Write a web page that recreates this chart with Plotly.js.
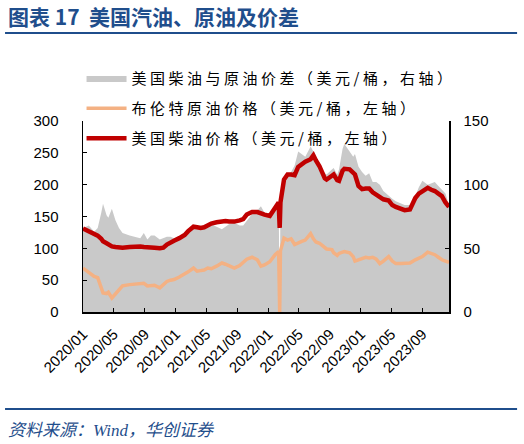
<!DOCTYPE html>
<html>
<head>
<meta charset="utf-8">
<script src="https://cdn.plot.ly/plotly-3.0.1.min.js"></script>
<style>
  html, body { margin: 0; padding: 0; background: #fff; }
  #chart { width: 524px; height: 444px; }
  text.legendtext, g[class*="legend"] text { letter-spacing: 3.5px !important; }
  g[class*="legend"] g, g[class*="legend"] { clip-path: none !important; }
</style>
</head>
<body>
<div id="chart"></div>
<script>
// weekly-ish samples
const dates = [
  "2020-01-01", "2020-01-24", "2020-02-14", "2020-02-28", "2020-03-13", "2020-03-20",
  "2020-04-03", "2020-04-10", "2020-04-24", "2020-05-08", "2020-05-22", "2020-06-05",
  "2020-07-03", "2020-07-24", "2020-08-14", "2020-08-28", "2020-09-11", "2020-09-25",
  "2020-10-09", "2020-10-30", "2020-11-13", "2020-11-27", "2020-12-11", "2020-12-25",
  "2021-01-15", "2021-02-05", "2021-02-19", "2021-03-12", "2021-03-26", "2021-04-09",
  "2021-04-23", "2021-05-07", "2021-05-21", "2021-06-11", "2021-07-02", "2021-07-16",
  "2021-07-30", "2021-08-20", "2021-09-10", "2021-09-24", "2021-10-08", "2021-10-29",
  "2021-11-19", "2021-12-03", "2021-12-17", "2022-01-07", "2022-01-28", "2022-02-11",
  "2022-02-15", "2022-02-18", "2022-03-04", "2022-03-18", "2022-04-01", "2022-04-15",
  "2022-04-29", "2022-05-13", "2022-05-27", "2022-06-17", "2022-06-28", "2022-07-08",
  "2022-07-22", "2022-08-12", "2022-08-19", "2022-09-09", "2022-09-16", "2022-09-30",
  "2022-10-07", "2022-10-21", "2022-10-28", "2022-11-18", "2022-12-02", "2022-12-09",
  "2022-12-23", "2023-01-06", "2023-01-20", "2023-02-03", "2023-02-17", "2023-03-03",
  "2023-03-17", "2023-03-31", "2023-04-21", "2023-05-05", "2023-05-19", "2023-06-09",
  "2023-06-23", "2023-07-14", "2023-08-04", "2023-08-18", "2023-09-01", "2023-09-22",
  "2023-10-06", "2023-10-20", "2023-11-03", "2023-11-17", "2023-12-01", "2023-12-15"
];

// 美国柴油价格 (left axis)
const diesel = [
  131, 127, 123, 120, 115, 111, 108, 106, 103, 102, 101, 101,
  102, 103, 103, 102, 102, 102, 101, 100, 101, 106, 110, 112,
  116, 121, 127, 134, 133, 132, 133, 137, 139, 141, 143, 143,
  142, 142, 144, 146, 153, 157, 157, 154, 153, 151, 163, 172,
  132, 172, 208, 216, 216, 215, 228, 233, 236, 240, 246, 238,
  229, 210, 208, 214, 216, 207, 206, 222, 225, 224, 220, 216,
  198, 193, 194, 194, 188, 185, 180, 177, 175, 168, 165, 163,
  160, 161, 179, 186, 190, 195, 192, 190, 186, 182, 172, 165
];

// 布伦特原油价格 (left axis)
const brent = [
  69, 63, 56, 54, 40, 30, 29, 31, 22, 28, 36, 41,
  43, 44, 45, 45, 41, 42, 42, 38, 43, 48, 50, 51,
  55, 59, 63, 69, 64, 65, 66, 69, 68, 72, 77, 75,
  73, 69, 73, 78, 83, 86, 82, 72, 74, 79, 90, 95,
  0, 96, 116, 113, 115, 106, 109, 111, 113, 123, 115, 110,
  108, 100, 99, 98, 93, 89, 92, 94, 95, 93, 87, 80,
  82, 83, 86, 85, 86, 83, 76, 80, 87, 80, 76, 76,
  76, 77, 82, 85, 87, 94, 92, 90, 86, 82, 80, 78
];

// 美国柴油与原油价差 (right axis)
const spread = [
  66, 68, 63, 66, 78, 85, 76, 74, 81, 72, 66, 62,
  60, 59, 58, 62, 57, 60, 60, 57, 58, 59, 59, 58,
  59, 62, 65, 66, 68, 68, 66, 68, 69, 67, 65, 67,
  69, 70, 68, 68, 72, 77, 80, 83, 78, 74, 80, 86,
  0, 86, 102, 107, 110, 115, 126, 124, 122, 130, 126, 120,
  115, 109, 108, 112, 113, 108, 112, 128, 132, 126, 122, 124,
  114, 110, 107, 109, 102, 102, 100, 95, 91, 89, 87, 85,
  84, 84, 91, 98, 103, 100, 101, 102, 99, 96, 93, 84
];

const spreadTrace = {
  x: dates,
  y: spread,
  type: "scatter",
  mode: "lines",
  fill: "tozeroy",
  fillcolor: "#c9c9c9",
  line: { color: "#c9c9c9", width: 0 },
  yaxis: "y",
  legend: "legend",
  name: "美国柴油与原油价差（美元/桶，右轴）",
};

const brentTrace = {
  x: dates,
  y: brent,
  type: "scatter",
  mode: "lines",
  line: { color: "#f4b183", width: 3.5 },
  yaxis: "y2",
  legend: "legend2",
  name: "布伦特原油价格（美元/桶，左轴）",
};

const dieselTrace = {
  x: dates,
  y: diesel,
  type: "scatter",
  mode: "lines",
  line: { color: "#c00000", width: 4.5 },
  yaxis: "y2",
  legend: "legend3",
  name: "美国柴油价格（美元/桶，左轴）",
};

const tickFont = { family: "Liberation Sans, Arial, sans-serif", size: 15, color: "#000" };
const legendFont = { family: "Noto Sans CJK SC", size: 15, color: "#000" };
const blue = "#1f4e8c";

// one legend per entry so the rows get the same wide spacing as the original
function legendAt(y) {
  return {
    x: -0.004, y: y, xanchor: "left", yanchor: "top",
    bgcolor: "rgba(0,0,0,0)", itemwidth: 40, font: legendFont,
  };
}

const layout = {
  width: 524,
  height: 444,
  margin: { t: 121, l: 83, r: 75, b: 132 },
  paper_bgcolor: "#fff",
  plot_bgcolor: "#fff",
  showlegend: true,
  legend: legendAt(1.31),
  legend2: legendAt(1.152),
  legend3: legendAt(0.995),
  xaxis: {
    type: "date",
    range: ["2020-01-01", "2023-12-15"],
    tick0: "2020-01-01",
    dtick: "M4",
    tickformat: "%Y/%m",
    tickangle: -45,
    ticks: "inside",
    ticklen: 4,
    tickcolor: "#000",
    showline: true,
    linecolor: "#000",
    linewidth: 1.5,
    showgrid: false,
    zeroline: false,
    tickfont: tickFont,
    ticklabelstandoff: 6,
  },
  // gray area sits on the primary axis (right side) so the lines draw above it
  yaxis: {
    side: "right",
    range: [0, 150],
    dtick: 50,
    ticks: "inside",
    ticklen: 4,
    tickcolor: "#000",
    showline: true,
    linecolor: "#000",
    linewidth: 1.5,
    showgrid: false,
    zeroline: false,
    tickfont: tickFont,
    ticklabelstandoff: 10,
  },
  yaxis2: {
    overlaying: "y",
    side: "left",
    range: [0, 300],
    dtick: 50,
    ticks: "inside",
    ticklen: 4,
    tickcolor: "#000",
    showline: true,
    linecolor: "#000",
    linewidth: 1.5,
    showgrid: false,
    zeroline: false,
    tickfont: tickFont,
    ticklabelstandoff: 20,
  },
  shapes: [
    { type: "line", xref: "paper", yref: "paper", x0: -0.213, x1: 1.186, y0: 1.461, y1: 1.461,
      line: { color: blue, width: 2 } },
    { type: "line", xref: "paper", yref: "paper", x0: -0.213, x1: 1.186, y0: -0.508, y1: -0.508,
      line: { color: blue, width: 2 } },
  ],
  annotations: [
    {
      text: "<b>图表 17  美国汽油、原油及价差</b>",
      xref: "paper", yref: "paper", x: -0.21, y: 1.55,
      xanchor: "left", yanchor: "middle", showarrow: false,
      font: { family: "Noto Sans CJK SC", size: 21, color: blue },
    },
    {
      text: "<i>资料来源：Wind，华创证券</i>",
      xref: "paper", yref: "paper", x: -0.21, y: -0.618,
      xanchor: "left", yanchor: "middle", showarrow: false,
      font: { family: "Liberation Serif, Noto Sans CJK SC", size: 17, color: blue },
    },
  ],
};

const config = { responsive: false, displayModeBar: false, staticPlot: true };

Plotly.newPlot("chart", [spreadTrace, brentTrace, dieselTrace], layout, config);
</script>
</body>
</html>
